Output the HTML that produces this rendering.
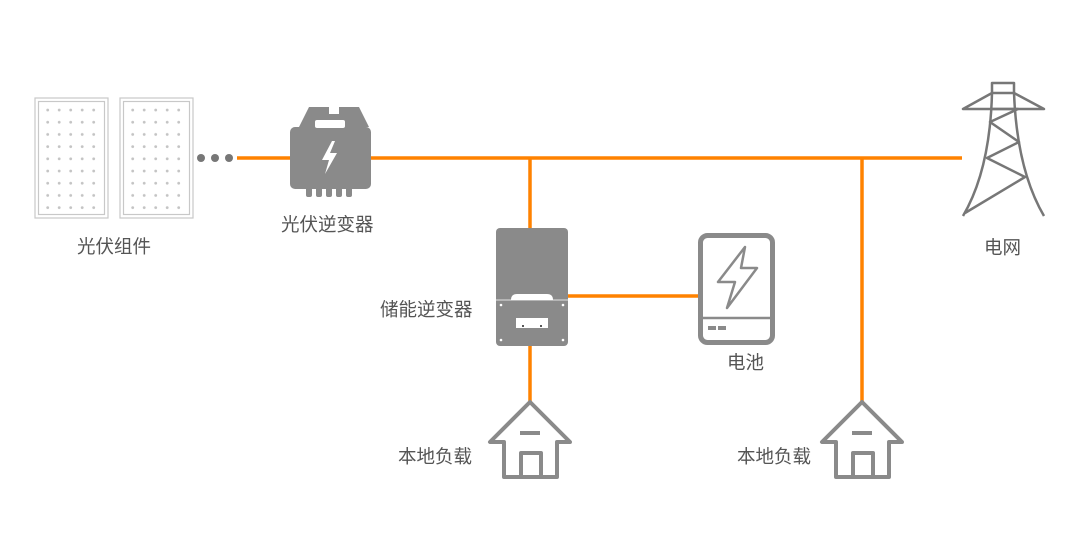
<!DOCTYPE html>
<html><head><meta charset="utf-8"><style>
body{margin:0;background:#fff;}
svg{display:block}
text{font-family:"Liberation Sans","Noto Sans CJK SC",sans-serif;font-size:18.5px;fill:#555;}
</style></head><body>
<svg width="1080" height="554" viewBox="0 0 1080 554">
<defs>
<pattern id="dots" x="42" y="104" width="11.5" height="12.2" patternUnits="userSpaceOnUse">
<circle cx="5.7" cy="6" r="1.4" fill="#c4c4c4"/></pattern>
<pattern id="dots2" x="127" y="104" width="11.5" height="12.2" patternUnits="userSpaceOnUse">
<circle cx="5.7" cy="6" r="1.4" fill="#c4c4c4"/></pattern>
</defs>
<g stroke="#ff8200" stroke-width="3.5" fill="none">
<line x1="237" y1="158" x2="962" y2="158"/>
<line x1="530" y1="158" x2="530" y2="230"/>
<line x1="530" y1="345" x2="530" y2="402"/>
<line x1="862" y1="158" x2="862" y2="402"/>
<line x1="566" y1="296" x2="700" y2="296"/>
</g>
<g fill="none" stroke="#c8c8c8" stroke-width="1.2">
<rect x="35" y="98" width="73" height="120"/><rect x="38.5" y="101.5" width="66" height="113"/>
<rect x="120" y="98" width="73" height="120"/><rect x="123.5" y="101.5" width="66" height="113"/>
</g>
<rect x="42" y="104" width="57" height="109" fill="url(#dots)"/>
<rect x="127" y="104" width="57" height="109" fill="url(#dots2)"/>
<g fill="#777"><circle cx="201" cy="158" r="4"/><circle cx="215" cy="158" r="4"/><circle cx="229" cy="158" r="4"/></g>
<g fill="#8a8a8a">
<path d="M299 127 L309 107 L329 107 L329 114 L339 114 L339 107 L359 107 L369 127 Z"/>
<rect x="290" y="127" width="81" height="62" rx="5"/>
<rect x="306" y="185" width="6" height="12" rx="2"/><rect x="316" y="185" width="6" height="12" rx="2"/>
<rect x="326" y="185" width="6" height="12" rx="2"/><rect x="336" y="185" width="6" height="12" rx="2"/>
<rect x="346" y="185" width="6" height="12" rx="2"/>
</g>
<rect x="315" y="120" width="30" height="8" rx="2" fill="#fff"/>
<path d="M332 141 L322 160 L329 160 L325 174 L337 153 L330 153 L335 141 Z" fill="#fff"/>
<rect x="496" y="228" width="72" height="118" rx="4" fill="#8a8a8a"/>
<path d="M511 300 Q511 294 517 294 L547 294 Q553 294 553 300 Z" fill="#fff"/>
<line x1="496" y1="300" x2="568" y2="300" stroke="#fff" stroke-width="0.8"/>
<rect x="516" y="318" width="32" height="10" fill="#fff"/>
<g fill="#fff"><circle cx="501" cy="305" r="1.3"/><circle cx="563" cy="305" r="1.3"/><circle cx="501" cy="340" r="1.3"/><circle cx="563" cy="340" r="1.3"/></g>
<g fill="#222"><circle cx="523" cy="326" r="1"/><circle cx="541" cy="326" r="1"/></g>
<rect x="700.5" y="235.5" width="72" height="107" rx="7" fill="none" stroke="#8a8a8a" stroke-width="5"/>
<line x1="701" y1="318" x2="772" y2="318" stroke="#8a8a8a" stroke-width="2.5"/>
<rect x="708" y="326" width="8" height="4" fill="#8a8a8a"/><rect x="718" y="326" width="8" height="4" fill="#8a8a8a"/>
<path d="M745 247 L718 282 L735 282 L727 308 L757 268 L741 268 L745 247 Z" fill="none" stroke="#8a8a8a" stroke-width="2.5" stroke-linejoin="round"/>
<g fill="none" stroke="#777" stroke-width="2.5" stroke-linejoin="round">
<rect x="992" y="83" width="22" height="10"/>
<path d="M992 93 L963 109 L1044 109 L1014 93"/>
<path d="M992 93 Q990 170 963 216"/>
<path d="M1014 93 Q1017 170 1044 216"/>
<path d="M991 109 L1018 109 L990 122 L1019 142 L987 158 L1025 177 L965 213"/>
</g>
<g fill="none" stroke="#8a8a8a" stroke-width="4" stroke-linejoin="round">
<path d="M530 402 L490 442 L504 442 L504 477 L557 477 L557 442 L570 442 Z"/>
<rect x="521" y="453" width="20" height="24"/>
<path d="M862 402 L822 442 L836 442 L836 477 L889 477 L889 442 L902 442 Z"/>
<rect x="853" y="453" width="20" height="24"/>
</g>
<line x1="520" y1="433" x2="540" y2="433" stroke="#8a8a8a" stroke-width="4"/>
<line x1="852" y1="433" x2="872" y2="433" stroke="#8a8a8a" stroke-width="4"/>
<text x="77" y="253">光伏组件</text>
<text x="281" y="231">光伏逆变器</text>
<text x="380" y="316">储能逆变器</text>
<text x="727" y="369">电池</text>
<text x="984" y="254">电网</text>
<text x="398" y="463">本地负载</text>
<text x="737" y="463">本地负载</text>
</svg>
</body></html>
